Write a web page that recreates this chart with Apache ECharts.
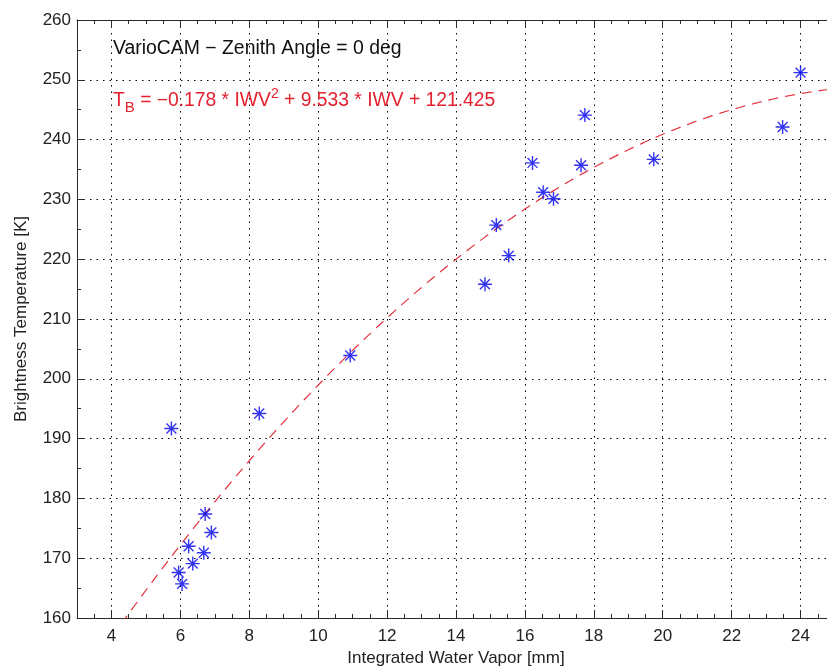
<!DOCTYPE html>
<html>
<head>
<meta charset="utf-8">
<script src="https://cdn.jsdelivr.net/npm/echarts@6/dist/echarts.min.js"></script>
<style>
  html, body { margin: 0; padding: 0; background: #fff; overflow: hidden; }
  #chart { width: 827px; height: 670px; }
</style>
</head>
<body>
<div id="chart"></div>
<script>
// Measured brightness temperatures vs. integrated water vapour
const iwv = [5.74, 8.29, 6.72, 6.90, 6.24, 6.68, 6.36, 5.95, 6.05, 10.93,
             14.84, 15.53, 15.17, 16.22, 16.53, 16.83, 17.63, 17.74, 19.74, 23.48, 24.0];
const tb  = [191.7, 194.2, 177.4, 174.3, 172.0, 170.9, 169.1, 167.6, 165.7, 203.9,
             215.8, 220.6, 225.7, 236.1, 231.2, 230.1, 235.7, 244.1, 236.7, 242.1, 251.2];

// Quadratic fit coefficients [a, b, c] for T_B = a*IWV^2 + b*IWV + c
const fitCoef = [-0.178, 9.533, 121.425];
const fitRange = [4, 25];

// Axis extents and tick labels
const xRange = [3, 25];
const yRange = [160, 260];
const xTicks = [4, 6, 8, 10, 12, 14, 16, 18, 20, 22, 24];
const yTicks = [160, 170, 180, 190, 200, 210, 220, 230, 240, 250, 260];

const points = iwv.map((x, i) => [x, tb[i]]);
const fitLine = [];
for (let k = 0; k <= 210; k++) {
  const x = fitRange[0] + k * (fitRange[1] - fitRange[0]) / 210;
  fitLine.push([x, fitCoef[0] * x * x + fitCoef[1] * x + fitCoef[2]]);
}

const FONT = '"Liberation Sans", Arial, Helvetica, sans-serif';
// asterisk marker: vertical, horizontal and two diagonal strokes
const asterisk = 'path://M0,-10 L0,10 M-10,0 L10,0 M-7.07,-7.07 L7.07,7.07 M-7.07,7.07 L7.07,-7.07';
const INK = '#2a2a2a';
const gridDots = { color: '#000', type: [1.5, 5], width: 1 };

function xAxisDef(pos, withLabels) {
  return {
    type: 'value', position: pos, min: xRange[0], max: xRange[1], splitNumber: 11,
    axisLine: { lineStyle: { color: INK, width: 1 } },
    axisTick: { inside: true, length: 8, lineStyle: { color: INK } },
    minorTick: { show: true, splitNumber: 4, length: 4, lineStyle: { color: INK } },
    splitLine: { show: withLabels, lineStyle: gridDots },
    axisLabel: withLabels
      ? { fontSize: 17, color: '#222', margin: 10, fontFamily: FONT,
          showMinLabel: false, showMaxLabel: false,
          formatter: v => (xTicks.indexOf(v) >= 0 ? String(v) : '') }
      : { show: false },
    name: withLabels ? 'Integrated Water Vapor [mm]' : '',
    nameLocation: 'middle', nameGap: 32,
    nameTextStyle: { fontSize: 17, color: '#222', fontFamily: FONT }
  };
}

function yAxisDef(pos, withLabels) {
  return {
    type: 'value', position: pos, min: yRange[0], max: yRange[1], interval: 10,
    axisLine: { lineStyle: { color: INK, width: 1 } },
    axisTick: { inside: true, length: 8, lineStyle: { color: INK } },
    minorTick: { show: true, splitNumber: 2, length: 4, lineStyle: { color: INK } },
    splitLine: { show: withLabels, lineStyle: gridDots },
    axisLabel: withLabels
      ? { fontSize: 17, color: '#222', margin: 6, fontFamily: FONT,
          formatter: v => (yTicks.indexOf(v) >= 0 ? String(v) : '') }
      : { show: false },
    name: withLabels ? 'Brightness Temperature [K]' : '',
    nameLocation: 'middle', nameGap: 47,
    nameTextStyle: { fontSize: 17, color: '#222', fontFamily: FONT }
  };
}

const chart = echarts.init(document.getElementById('chart'));
chart.setOption({
  animation: false,
  backgroundColor: '#fff',
  textStyle: { fontFamily: FONT },
  grid: { left: 77, top: 20, width: 758, height: 598, containLabel: false, outerBoundsMode: 'none' },
  xAxis: [xAxisDef('bottom', true), xAxisDef('top', false)],
  yAxis: [yAxisDef('left', true), yAxisDef('right', false)],
  graphic: [
    {
      type: 'text', left: 113, top: 39, z: 10,
      style: { text: 'VarioCAM \u2212 Zenith Angle = 0 deg', fontSize: 19.4, fill: '#111', fontFamily: FONT }
    },
    {
      type: 'text', left: 113, top: 86, z: 10,
      style: {
        text: '{a|T}{s|B}{a| = \u22120.178 * IWV}{p|2}{a| + 9.533 * IWV + 121.425}',
        fontFamily: FONT,
        rich: {
          a: { fontSize: 19.3, fill: '#e3212f', fontFamily: FONT, lineHeight: 26 },
          s: { fontSize: 15, fill: '#e3212f', fontFamily: FONT, padding: [14, 0, 0, 0], lineHeight: 26 },
          p: { fontSize: 14, fill: '#e3212f', fontFamily: FONT, padding: [0, 0, 12, 0], lineHeight: 26 }
        }
      }
    }
  ],
  series: [
    {
      type: 'line', data: fitLine, xAxisIndex: 0, yAxisIndex: 0,
      showSymbol: false, symbol: 'none', clip: true, z: 3,
      lineStyle: { color: '#e3303e', width: 1.2, type: [10, 7] }
    },
    {
      type: 'scatter', data: points, xAxisIndex: 0, yAxisIndex: 0,
      symbol: asterisk, symbolSize: 14, z: 4,
      itemStyle: { color: 'rgba(0,0,0,0)', borderColor: '#0000f0', borderWidth: 1.4 }
    }
  ]
});
</script>
</body>
</html>
